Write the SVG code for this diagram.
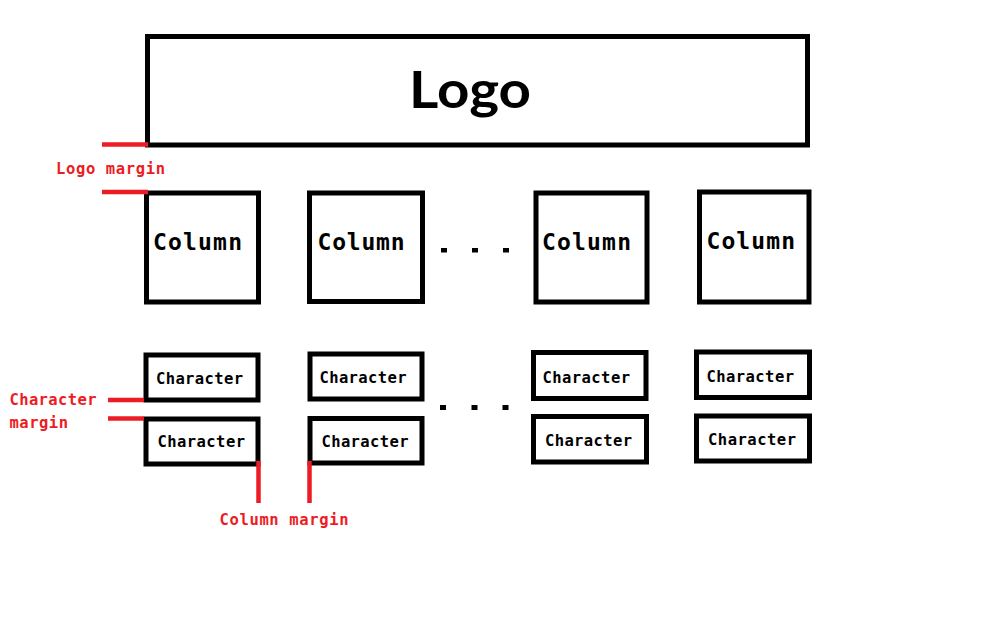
<svg xmlns="http://www.w3.org/2000/svg" width="984" height="628" viewBox="0 0 984 628">
<style>
.box{fill:#fff;stroke:#000;stroke-width:5}
.t{font-family:"DejaVu Sans Mono","Liberation Mono",monospace;font-weight:bold;fill:#000}
.col{font-size:23px}
.chr{font-size:15.5px}
.red{font-family:"DejaVu Sans Mono","Liberation Mono",monospace;font-weight:bold;font-size:15.5px;fill:#ED1C24}
.rl{stroke:#ED1C24;stroke-width:4.5;fill:none}
.dot{fill:#000}
</style>
<rect width="984" height="628" fill="#fff"/>
<g id="logo">
<rect class="box" x="147.5" y="36.5" width="660" height="108.5"/>
<text x="409" y="108" font-family="Lato,'Open Sans',sans-serif" font-weight="bold" font-size="52" textLength="122" lengthAdjust="spacingAndGlyphs">Logo</text>
</g>
<g id="column1"><rect class="box" x="146.5" y="193" width="112" height="109"/><text class="t col" x="153" y="250" textLength="89">Column</text></g>
<g id="column2"><rect class="box" x="309.5" y="193" width="113" height="108.5"/><text class="t col" x="317.5" y="250" textLength="87">Column</text></g>
<g id="column3"><rect class="box" x="536" y="193" width="111" height="109"/><text class="t col" x="542" y="250" textLength="89">Column</text></g>
<g id="column4"><rect class="box" x="699.5" y="192" width="109.5" height="110"/><text class="t col" x="706.5" y="248.5" textLength="88.5">Column</text></g>
<g id="dots1"><rect class="dot" x="441" y="248" width="6" height="4.5"/><rect class="dot" x="472" y="248" width="6" height="4.5"/><rect class="dot" x="503" y="248" width="6" height="4.5"/></g>
<g id="char1a"><rect class="box" x="146" y="355" width="112" height="45"/><text class="t chr" x="156" y="384" textLength="87">Character</text></g>
<g id="char1b"><rect class="box" x="146" y="419" width="112" height="45"/><text class="t chr" x="157.5" y="447" textLength="87.5">Character</text></g>
<g id="char2a"><rect class="box" x="310" y="354" width="112" height="45"/><text class="t chr" x="319.5" y="383" textLength="87">Character</text></g>
<g id="char2b"><rect class="box" x="310" y="418.5" width="112" height="44.5"/><text class="t chr" x="321.5" y="446.5" textLength="87">Character</text></g>
<g id="char3a"><rect class="box" x="533.5" y="352.5" width="112.5" height="46"/><text class="t chr" x="542.5" y="382.5" textLength="87.5">Character</text></g>
<g id="char3b"><rect class="box" x="533.5" y="416.5" width="113" height="45.5"/><text class="t chr" x="545" y="446" textLength="87">Character</text></g>
<g id="char4a"><rect class="box" x="696.5" y="352" width="113" height="45.5"/><text class="t chr" x="706.5" y="381.5" textLength="87.5">Character</text></g>
<g id="char4b"><rect class="box" x="696.5" y="416" width="113" height="45"/><text class="t chr" x="708" y="445" textLength="88">Character</text></g>
<g id="dots2"><rect class="dot" x="440" y="405" width="6" height="5"/><rect class="dot" x="471.5" y="405" width="6" height="5"/><rect class="dot" x="502.5" y="405" width="6" height="5"/></g>
<g id="connectors">
<line class="rl" x1="102" y1="144.5" x2="148" y2="144.5"/>
<line class="rl" x1="102" y1="192" x2="148" y2="192"/>
<line class="rl" x1="108" y1="400" x2="144" y2="400"/>
<line class="rl" x1="108" y1="418.5" x2="144" y2="418.5"/>
<line class="rl" x1="258.5" y1="461" x2="258.5" y2="503"/>
<line class="rl" x1="309.5" y1="461" x2="309.5" y2="503"/>
</g>
<g id="labels">
<text class="red" x="56" y="174" textLength="109">Logo margin</text>
<text class="red" x="9.5" y="405" textLength="87">Character</text>
<text class="red" x="9.5" y="428" textLength="58.5">margin</text>
<text class="red" x="219.5" y="524.5" textLength="129">Column margin</text>
</g>
</svg>
